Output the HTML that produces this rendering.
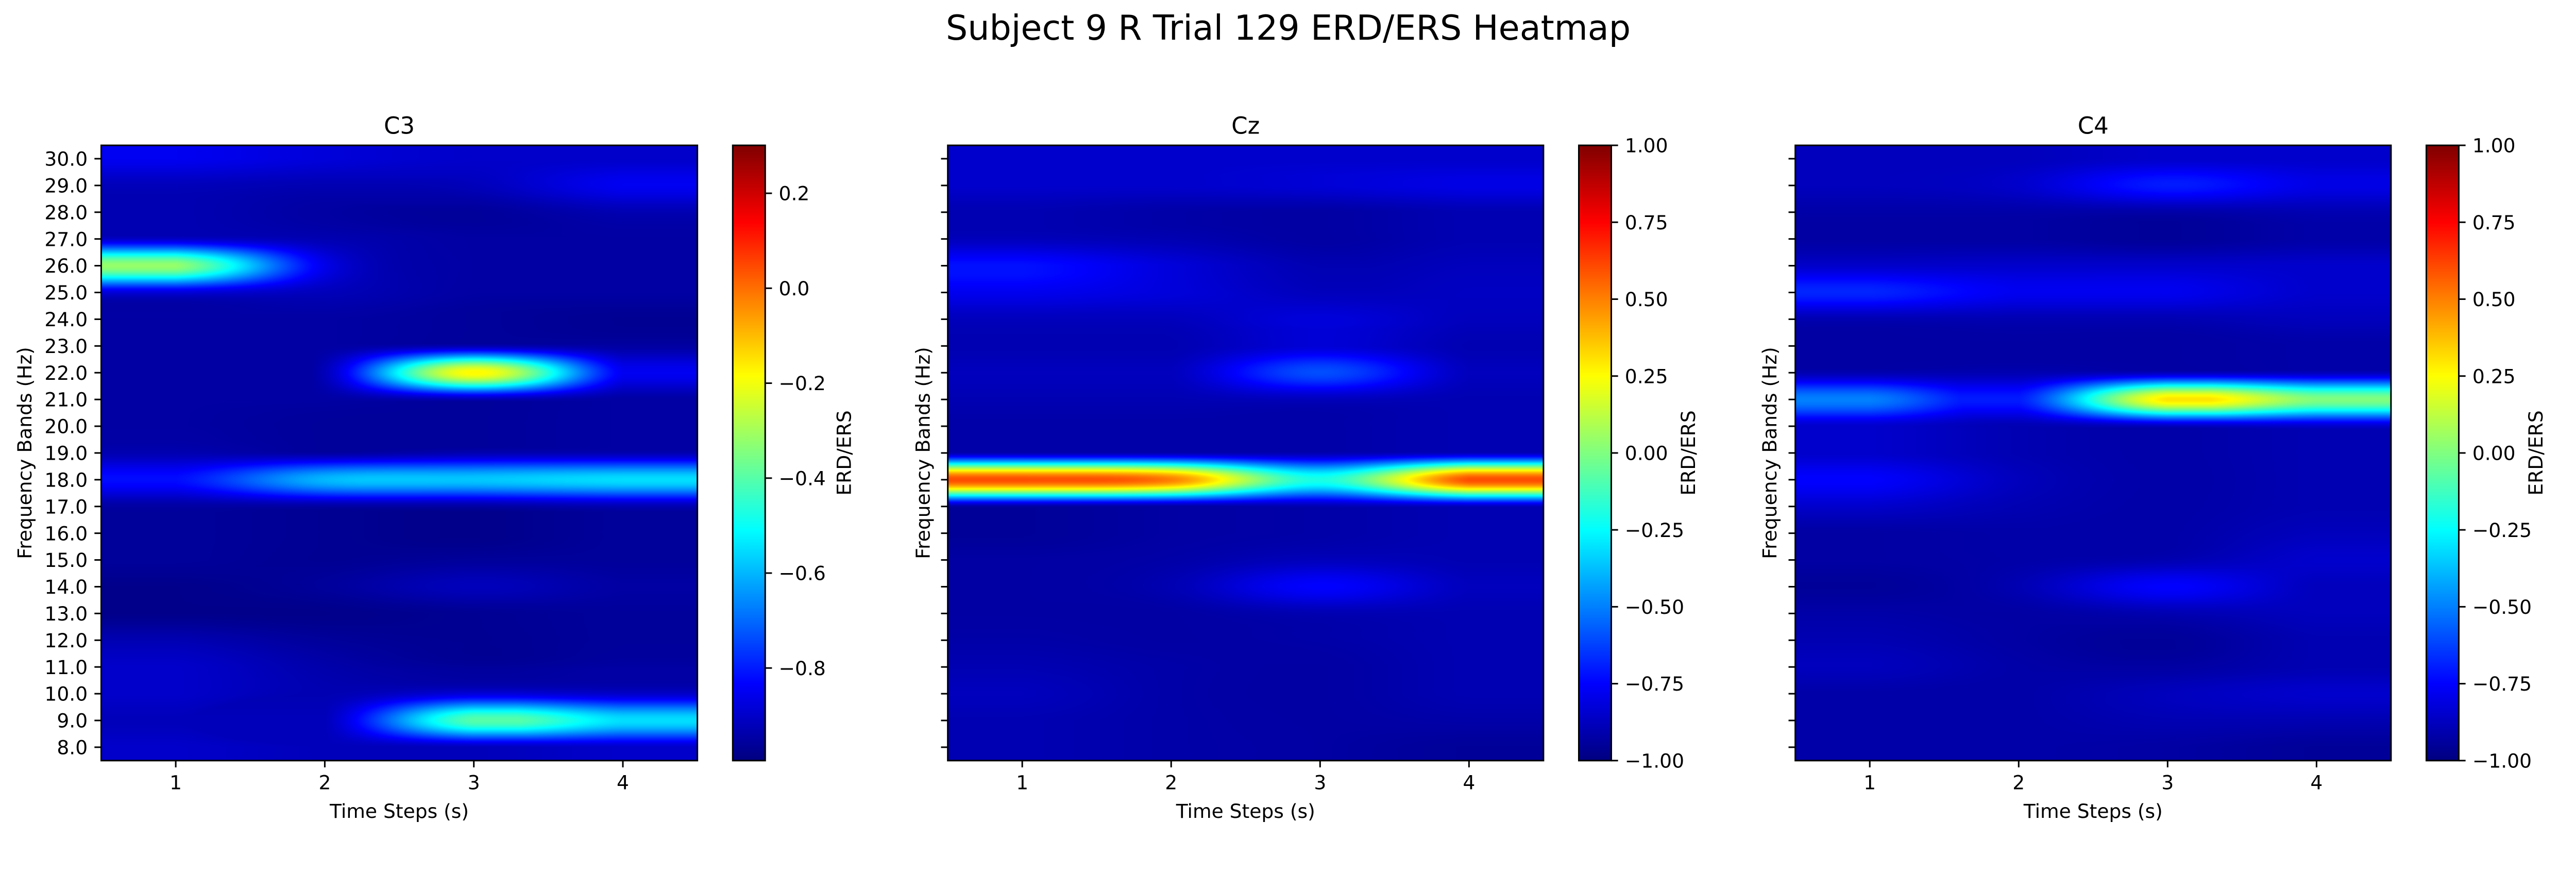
<!DOCTYPE html>
<html><head><meta charset="utf-8">
<style>
html,body{margin:0;padding:0;background:#fff;overflow:hidden;}
#wrap{position:absolute;left:0;top:0;width:5319px;height:1725px;overflow:hidden;background:#fff;font-family:"DejaVu Sans","Liberation Sans",sans-serif;transform-origin:0 0;}
canvas{position:absolute;display:block;}
svg{position:absolute;left:0;top:0;display:block;}
</style></head>
<body>
<div id="wrap">
<svg id="svg" width="5319" height="1725"></svg>
</div>
<script>
// ---- data ----
const channels = ["C3", "Cz", "C4"];
const timeSteps = [1, 2, 3, 4];
const freqBands = [8,9,10,11,12,13,14,15,16,17,18,19,20,21,22,23,24,25,26,27,28,29,30];
const yTickLabels = ["8.0","9.0","10.0","11.0","12.0","13.0","14.0","15.0","16.0","17.0","18.0","19.0","20.0","21.0","22.0","23.0","24.0","25.0","26.0","27.0","28.0","29.0","30.0"];
const xTickLabels = ["1","2","3","4"];
const climC3 = [-0.995, 0.301];
const climCz = [-1, 1];
const climC4 = [-1, 1];
const cbTicksC3 = [-0.8,-0.6,-0.4,-0.2,0.0,0.2];
const cbTickLabelsC3 = ["−0.8","−0.6","−0.4","−0.2","0.0","0.2"];
const cbTicksCz = [-1,-0.75,-0.5,-0.25,0,0.25,0.5,0.75,1];
const cbTickLabelsCz = ["−1.00","−0.75","−0.50","−0.25","0.00","0.25","0.50","0.75","1.00"];
// rows: 8 Hz ... 30 Hz ; columns: t=1..4
const valuesC3 = [
[-0.90,-0.92,-0.92,-0.90],
[-0.92,-0.92,-0.40,-0.55],
[-0.90,-0.93,-0.88,-0.90],
[-0.90,-0.94,-0.96,-0.95],
[-0.93,-0.96,-0.97,-0.96],
[-0.98,-0.98,-0.97,-0.96],
[-0.98,-0.96,-0.92,-0.95],
[-0.96,-0.97,-0.96,-0.96],
[-0.96,-0.97,-0.98,-0.96],
[-0.95,-0.95,-0.95,-0.93],
[-0.82,-0.60,-0.58,-0.55],
[-0.93,-0.95,-0.93,-0.93],
[-0.95,-0.96,-0.96,-0.95],
[-0.95,-0.95,-0.93,-0.95],
[-0.95,-0.92,-0.18,-0.85],
[-0.95,-0.95,-0.93,-0.95],
[-0.95,-0.95,-0.96,-0.97],
[-0.88,-0.92,-0.95,-0.95],
[-0.32,-0.86,-0.95,-0.95],
[-0.90,-0.93,-0.95,-0.95],
[-0.93,-0.95,-0.96,-0.93],
[-0.92,-0.93,-0.92,-0.85],
[-0.85,-0.88,-0.90,-0.90]];
const valuesCz = [
[-0.90,-0.92,-0.93,-0.95],
[-0.90,-0.92,-0.93,-0.92],
[-0.88,-0.92,-0.93,-0.90],
[-0.90,-0.92,-0.93,-0.90],
[-0.92,-0.93,-0.92,-0.90],
[-0.93,-0.93,-0.90,-0.90],
[-0.93,-0.90,-0.75,-0.88],
[-0.93,-0.92,-0.88,-0.90],
[-0.95,-0.93,-0.92,-0.90],
[-0.93,-0.93,-0.90,-0.88],
[0.60,0.50,-0.20,0.60],
[-0.90,-0.90,-0.90,-0.88],
[-0.92,-0.92,-0.92,-0.90],
[-0.90,-0.90,-0.88,-0.90],
[-0.88,-0.88,-0.60,-0.88],
[-0.90,-0.90,-0.83,-0.90],
[-0.88,-0.88,-0.82,-0.88],
[-0.78,-0.82,-0.88,-0.87],
[-0.72,-0.82,-0.90,-0.88],
[-0.88,-0.90,-0.93,-0.90],
[-0.90,-0.92,-0.93,-0.90],
[-0.85,-0.85,-0.83,-0.80],
[-0.85,-0.85,-0.85,-0.85]];
const valuesC4 = [
[-0.92,-0.92,-0.93,-0.95],
[-0.92,-0.92,-0.90,-0.90],
[-0.92,-0.92,-0.88,-0.85],
[-0.88,-0.92,-0.93,-0.90],
[-0.90,-0.93,-0.95,-0.90],
[-0.92,-0.93,-0.90,-0.88],
[-0.95,-0.90,-0.75,-0.88],
[-0.93,-0.92,-0.90,-0.85],
[-0.93,-0.92,-0.92,-0.88],
[-0.85,-0.90,-0.92,-0.90],
[-0.75,-0.88,-0.92,-0.90],
[-0.85,-0.90,-0.92,-0.90],
[-0.85,-0.90,-0.88,-0.85],
[-0.50,-0.70,0.30,0.00],
[-0.90,-0.90,-0.88,-0.88],
[-0.93,-0.93,-0.93,-0.92],
[-0.90,-0.90,-0.90,-0.88],
[-0.68,-0.78,-0.78,-0.85],
[-0.85,-0.85,-0.85,-0.85],
[-0.93,-0.93,-0.95,-0.92],
[-0.92,-0.92,-0.92,-0.90],
[-0.88,-0.85,-0.70,-0.80],
[-0.88,-0.88,-0.85,-0.85]];

// ---- layout ----
const AX_TOP = 300, AX_BOT = 1570;
const panels = [
  {name:"C3", left:209, right:1440, cbL:1513, cbR:1580, vals:valuesC3, clim:climC3, ticks:cbTicksC3, tl:cbTickLabelsC3, yl:true, ylx:51, cblx:1743},
  {name:"Cz", left:1957, right:3187, cbL:3260, cbR:3327, vals:valuesCz, clim:climCz, ticks:cbTicksCz, tl:cbTickLabelsCz, yl:false, ylx:1906, cblx:3486},
  {name:"C4", left:3707, right:4937, cbL:5010, cbR:5077, vals:valuesC4, clim:climC4, ticks:cbTicksCz, tl:cbTickLabelsCz, yl:false, ylx:3654, cblx:5236}
];
const X0 = 0.5, X1 = 4.5, Y0 = 7.5, Y1 = 30.5;

function jet(x){
  x = Math.max(0, Math.min(1, x));
  const cl = v => Math.max(0, Math.min(1, v));
  return [cl(1.5 - Math.abs(4*x-3)), cl(1.5 - Math.abs(4*x-2)), cl(1.5 - Math.abs(4*x-1))];
}
// cubic interpolation clamped between the two central samples (no ringing)
function cub(p0,p1,p2,p3,t){
  const v = p1 + 0.5*t*(p2-p0 + t*(2*p0-5*p1+4*p2-p3 + t*(3*(p1-p2)+p3-p0)));
  const lo = Math.min(p1,p2), hi = Math.max(p1,p2);
  return Math.max(lo, Math.min(hi, v));
}

const wrap = document.getElementById('wrap');
function fit(){
  const vw = document.documentElement.clientWidth || window.innerWidth || 5319;
  const s = vw / 5319;
  wrap.style.transform = Math.abs(s-1) > 0.001 ? `scale(${s})` : 'none';
}
fit();
window.addEventListener('resize', fit);

const svg = document.getElementById('svg');
const NS = "http://www.w3.org/2000/svg";
function mk(tag, attrs, name, parent){
  const e = document.createElementNS(NS, tag);
  for (const k in attrs) e.setAttribute(k, attrs[k]);
  
  
  (parent||svg).appendChild(e);
  return e;
}
function txt(s, attrs, name, parent){
  const e = mk('text', Object.assign({'font-family':'DejaVu Sans, Liberation Sans, sans-serif', fill:'#000'}, attrs), name, parent);
  e.textContent = s;
  return e;
}

const defs = mk('defs', {}, 'defs');
const grad = mk('linearGradient', {id:'jetgrad', x1:'0', y1:'1', x2:'0', y2:'0'}, 'jet-gradient', defs);
for (let i=0;i<=64;i++){
  const c = jet(i/64);
  mk('stop', {offset:(i/64), 'stop-color':`rgb(${Math.round(c[0]*255)},${Math.round(c[1]*255)},${Math.round(c[2]*255)})`}, 'gradient-stop', grad);
}

txt("Subject 9 R Trial 129 ERD/ERS Heatmap", {x:2660, y:82, 'font-size':71, 'text-anchor':'middle'}, 'figure-title');

panels.forEach(p => {
  const W = p.right - p.left, H = AX_BOT - AX_TOP;
  const xs = v => p.left + (v - X0)/(X1 - X0)*W;
  const ys = v => AX_BOT - (v - Y0)/(Y1 - Y0)*H;
  const cv = document.createElement('canvas');
  cv.width = W; cv.height = H;
  cv.style.left = p.left + 'px'; cv.style.top = AX_TOP + 'px';
  cv.style.width = W + 'px'; cv.style.height = H + 'px';
  
  
  wrap.insertBefore(cv, svg);
  const ctx = cv.getContext('2d');
  const img = ctx.createImageData(W, H);
  const nr = freqBands.length, nc = timeSteps.length;
  const V = p.vals;
  const g = (r,c) => V[Math.max(0,Math.min(nr-1,r))][Math.max(0,Math.min(nc-1,c))];
  const colIdx = [], colT = [];
  for (let px=0; px<W; px++){
    const xv = X0 + (px+0.5)/W*(X1-X0);
    const cf = (xv - timeSteps[0]) / (timeSteps[1]-timeSteps[0]);
    const c0 = Math.floor(cf); colIdx.push(c0); colT.push(cf - c0);
  }
  const [vmin, vmax] = p.clim;
  const OFF = 3;
  for (let py=0; py<H; py++){
    const yv = Y1 - (py+0.5)/H*(Y1-Y0);
    const rf = (yv - freqBands[0]) / (freqBands[1]-freqBands[0]);
    const r0 = Math.floor(rf), tr = rf - r0;
    const colv = [];
    for (let c=-OFF; c<=nc+OFF; c++){
      colv.push(cub(g(r0-1,c),g(r0,c),g(r0+1,c),g(r0+2,c),tr));
    }
    for (let px=0; px<W; px++){
      const b = colIdx[px] + OFF;
      const v = cub(colv[b-1], colv[b], colv[b+1], colv[b+2], colT[px]);
      const col = jet((v - vmin)/(vmax - vmin));
      const k = (py*W + px)*4;
      img.data[k] = col[0]*255; img.data[k+1] = col[1]*255; img.data[k+2] = col[2]*255; img.data[k+3] = 255;
    }
  }
  ctx.putImageData(img, 0, 0);

  const grp = mk('g', {}, 'panel-' + p.name.toLowerCase());
  mk('rect', {x:p.left, y:AX_TOP, width:W, height:H, fill:'none', stroke:'#000', 'stroke-width':3.2}, 'axes-frame', grp);
  txt(p.name, {x:(p.left+p.right)/2, y:276, 'font-size':48, 'text-anchor':'middle'}, 'panel-title', grp);
  timeSteps.forEach((t,i) => {
    const x = xs(t);
    mk('line', {x1:x, y1:AX_BOT, x2:x, y2:AX_BOT+14, stroke:'#000', 'stroke-width':3.2}, 'x-tick', grp);
    txt(xTickLabels[i], {x:x, y:1629, 'font-size':40, 'text-anchor':'middle'}, 'x-tick-label', grp);
  });
  txt("Time Steps (s)", {x:(p.left+p.right)/2, y:1688, 'font-size':40, 'text-anchor':'middle'}, 'x-axis-title', grp);
  freqBands.forEach((f,i) => {
    const y = ys(f);
    mk('line', {x1:p.left-14, y1:y, x2:p.left, y2:y, stroke:'#000', 'stroke-width':3.2}, 'y-tick', grp);
    if (p.yl) txt(yTickLabels[i], {x:p.left-28, y:y+14.5, 'font-size':40, 'text-anchor':'end'}, 'y-tick-label', grp);
  });
  txt("Frequency Bands (Hz)", {x:p.ylx, y:(AX_TOP+AX_BOT)/2, 'font-size':40, 'text-anchor':'middle', 'dominant-baseline':'central', transform:`rotate(-90 ${p.ylx} ${(AX_TOP+AX_BOT)/2})`}, 'y-axis-title', grp);
  const cbs = v => AX_BOT - (v - p.clim[0])/(p.clim[1]-p.clim[0])*H;
  mk('rect', {x:p.cbL, y:AX_TOP, width:p.cbR-p.cbL, height:H, fill:'url(#jetgrad)', stroke:'#000', 'stroke-width':3.2}, 'colorbar', grp);
  p.ticks.forEach((t,i) => {
    const y = cbs(t);
    mk('line', {x1:p.cbR, y1:y, x2:p.cbR+14, y2:y, stroke:'#000', 'stroke-width':3.2}, 'colorbar-tick', grp);
    txt(p.tl[i], {x:p.cbR+28, y:y+14.5, 'font-size':40}, 'colorbar-tick-label', grp);
  });
  txt("ERD/ERS", {x:p.cblx, y:(AX_TOP+AX_BOT)/2, 'font-size':40, 'text-anchor':'middle', 'dominant-baseline':'central', transform:`rotate(-90 ${p.cblx} ${(AX_TOP+AX_BOT)/2})`}, 'colorbar-title', grp);
});
</script>
</body></html>
